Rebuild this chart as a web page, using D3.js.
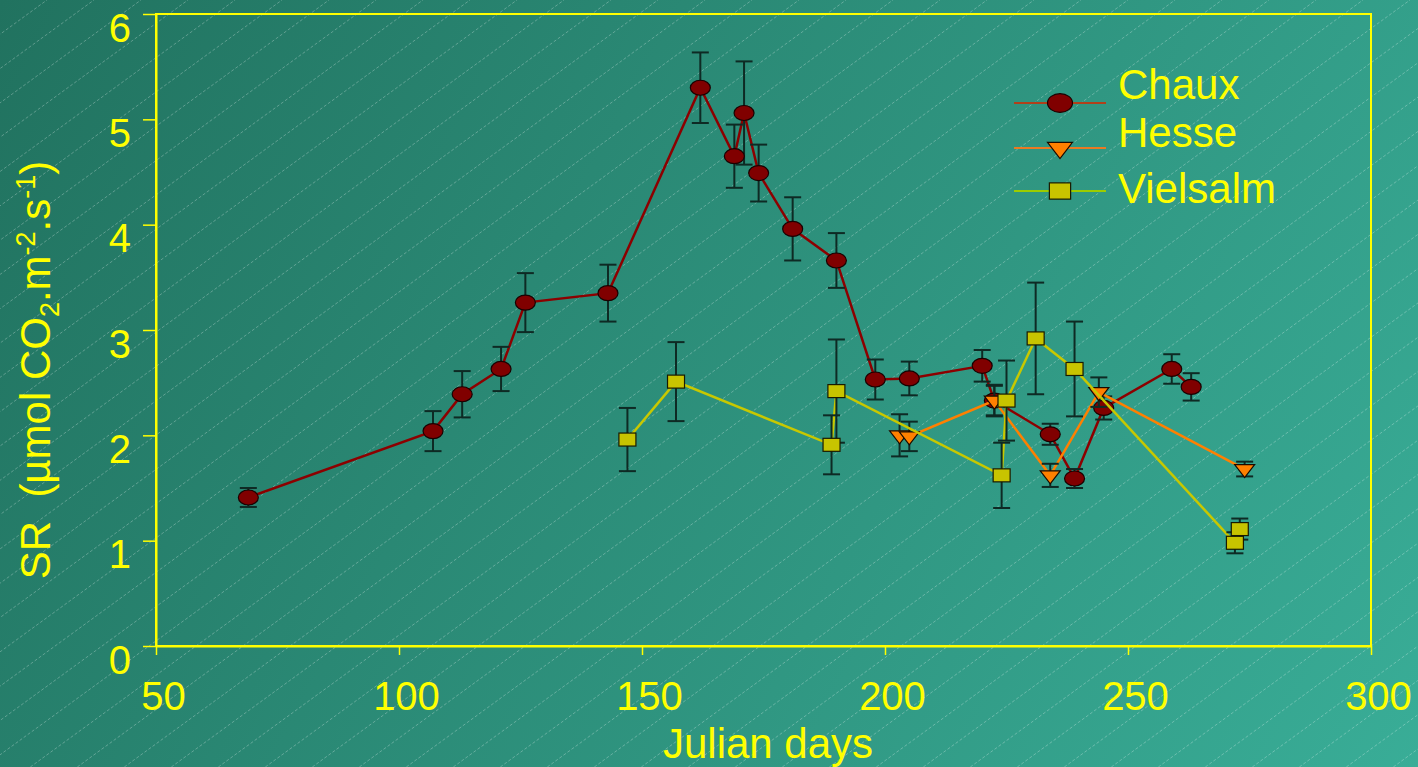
<!DOCTYPE html>
<html>
<head>
<meta charset="utf-8">
<script src="https://cdn.jsdelivr.net/npm/d3@7"></script>
<style>
  html, body { margin: 0; padding: 0; background: #2a8a77; }
  svg { display: block; font-family: "Liberation Sans", Arial, sans-serif; }
</style>
</head>
<body>
<svg id="chart" width="1418" height="767"></svg>
<script>
// Soil respiration (SR) through the season at three forest sites
const chauxDays = [69, 107, 113, 121, 126, 143, 162, 169, 171, 174, 181, 190, 198, 205, 220, 222.5, 234, 239, 245, 259, 263];
const chauxSR   = [1.41, 2.04, 2.39, 2.63, 3.26, 3.35, 5.30, 4.65, 5.06, 4.49, 3.96, 3.66, 2.53, 2.54, 2.66, 2.33, 2.01, 1.59, 2.26, 2.63, 2.46];
const chauxErr  = [0.09, 0.19, 0.22, 0.21, 0.28, 0.27, 0.335, 0.30, 0.49, 0.27, 0.30, 0.26, 0.19, 0.16, 0.15, 0.14, 0.10, 0.09, 0.11, 0.14, 0.13];

const hesseDays = [203, 205, 222.5, 234, 244, 274];
const hesseSR   = [2.00, 1.99, 2.33, 1.62, 2.41, 1.68];
const hesseErr  = [0.20, 0.14, 0.15, 0.11, 0.14, 0.07];

const vielsalmDays = [147, 157, 189, 190, 224, 225, 231, 239, 272, 273];
const vielsalmSR   = [1.96, 2.51, 1.91, 2.42, 1.62, 2.33, 2.92, 2.63, 0.98, 1.11];
const vielsalmErr  = [0.30, 0.375, 0.28, 0.49, 0.31, 0.38, 0.53, 0.45, 0.10, 0.10];

const xTicks = [50, 100, 150, 200, 250, 300];
const yTicks = [0, 1, 2, 3, 4, 5, 6];

const seriesNames = ["Chaux", "Hesse", "Vielsalm"];

const W = 1418, H = 767;
const svg = d3.select("#chart");

// ---- background: diagonal gradient with fine hatching ----
const defs = svg.append("defs");
const grad = defs.append("linearGradient").attr("id", "bg")
  .attr("gradientUnits", "userSpaceOnUse")
  .attr("x1", 0).attr("y1", 0).attr("x2", W).attr("y2", H);
grad.append("stop").attr("offset", 0).attr("stop-color", "#21725f");
grad.append("stop").attr("offset", 1).attr("stop-color", "#39ad97");
svg.append("rect").attr("width", W).attr("height", H).attr("fill", "url(#bg)");

const hatch = svg.append("g").attr("stroke", "#ffffff").attr("stroke-opacity", 0.3)
  .attr("stroke-width", 0.9).attr("stroke-dasharray", "3 2");
const slope = 0.73, step = 47;
for (let x0 = -H / slope - step; x0 < W + step; x0 += step) {
  hatch.append("line").attr("x1", x0).attr("y1", H).attr("x2", x0 + H / slope).attr("y2", 0);
}

// ---- scales ----
const plot = { left: 156, right: 1371, top: 14, bottom: 646 };
const x = d3.scaleLinear().domain([50, 300]).range([plot.left, plot.right]);
const y = d3.scaleLinear().domain([0, 6]).range([plot.bottom, plot.top]);

const yellow = "#ffff00";

// frame
svg.append("rect")
  .attr("x", plot.left).attr("y", plot.top)
  .attr("width", plot.right - plot.left).attr("height", plot.bottom - plot.top)
  .attr("fill", "none").attr("stroke", yellow).attr("stroke-width", 2);

// x axis
const xAxis = d3.axisBottom(x).tickValues(xTicks).tickFormat(d3.format("d"))
  .tickSize(9).tickSizeOuter(0).tickPadding(0);
const gx = svg.append("g").attr("transform", `translate(0,${plot.bottom})`).call(xAxis);
gx.select(".domain").attr("stroke", yellow).attr("stroke-width", 2);
gx.selectAll(".tick line").attr("stroke", yellow).attr("stroke-width", 1.5);
gx.selectAll(".tick text")
  .attr("fill", yellow).attr("font-size", 40).attr("font-family", "Liberation Sans, Arial, sans-serif")
  .attr("dx", 7).attr("y", 64).attr("dy", 0);

// y axis
const yAxis = d3.axisLeft(y).tickValues(yTicks).tickFormat(d3.format("d"))
  .tickSize(13).tickSizeOuter(0).tickPadding(0);
const gy = svg.append("g").attr("transform", `translate(${plot.left},0)`).call(yAxis);
gy.select(".domain").attr("stroke", yellow).attr("stroke-width", 2);
gy.selectAll(".tick line").attr("stroke", yellow).attr("stroke-width", 1.5);
gy.selectAll(".tick text")
  .attr("fill", yellow).attr("font-size", 40).attr("font-family", "Liberation Sans, Arial, sans-serif")
  .attr("x", -25).attr("dy", 0).attr("y", 27);

// axis titles
svg.append("text")
  .attr("x", 768).attr("y", 758)
  .attr("text-anchor", "middle").attr("fill", yellow).attr("font-size", 42)
  .text("Julian days");

const yTitle = svg.append("text")
  .attr("transform", "translate(50,370) rotate(-90)")
  .attr("text-anchor", "middle").attr("fill", yellow).attr("font-size", 42)
  .attr("xml:space", "preserve").style("white-space", "pre");
yTitle.append("tspan").text("SR  (\u00b5mol CO");
yTitle.append("tspan").attr("font-size", 27).attr("dy", 9).text("2");
yTitle.append("tspan").attr("dy", -9).text(".m");
yTitle.append("tspan").attr("font-size", 27).attr("dy", -15).text("-2");
yTitle.append("tspan").attr("dy", 15).text(".s");
yTitle.append("tspan").attr("font-size", 27).attr("dy", -15).text("-1");
yTitle.append("tspan").attr("dy", 15).text(")");

// ---- marker shapes ----
function drawMarker(g, kind, cx, cy, scale) {
  const s = scale || 1;
  if (kind === "circle") {
    g.append("ellipse").attr("cx", cx).attr("cy", cy).attr("rx", 10 * s).attr("ry", 7.5 * s)
      .attr("fill", "#800000").attr("stroke", "#1a0000").attr("stroke-width", 1.2);
  } else if (kind === "triangle") {
    const p = [[-10 * s, -4.5 * s], [10 * s, -4.5 * s], [0, 8.5 * s]]
      .map(d => [cx + d[0], cy + d[1]]);
    g.append("path").attr("d", "M" + p.join("L") + "Z")
      .attr("fill", "#ff8000").attr("stroke", "#1a0a00").attr("stroke-width", 1.2);
  } else {
    g.append("rect").attr("x", cx - 8.5 * s).attr("y", cy - 6.5 * s)
      .attr("width", 17 * s).attr("height", 13 * s)
      .attr("fill", "#c8c400").attr("stroke", "#1a1a00").attr("stroke-width", 1.2);
  }
}

const series = [
  { name: "Chaux", days: chauxDays, sr: chauxSR, err: chauxErr, line: "#8c0000", kind: "circle", legendLine: "#b0401a" },
  { name: "Hesse", days: hesseDays, sr: hesseSR, err: hesseErr, line: "#ff8000", kind: "triangle", legendLine: "#ea7a22" },
  { name: "Vielsalm", days: vielsalmDays, sr: vielsalmSR, err: vielsalmErr, line: "#c8c800", kind: "square", legendLine: "#9ccc00" }
];

const lineGen = d3.line().x(d => x(d.day)).y(d => y(d.sr));

series.forEach(s => {
  const pts = s.days.map((d, i) => ({ day: d, sr: s.sr[i], err: s.err[i] }));
  const g = svg.append("g");
  g.append("path").datum(pts).attr("d", lineGen)
    .attr("fill", "none").attr("stroke", s.line).attr("stroke-width", 2.5);

  const eb = g.append("g").attr("stroke", "#0e2a24").attr("stroke-width", 2);
  pts.forEach(p => {
    const cx = x(p.day), y1 = y(p.sr + p.err), y2 = y(p.sr - p.err);
    eb.append("line").attr("x1", cx).attr("x2", cx).attr("y1", y1).attr("y2", y2);
    eb.append("line").attr("x1", cx - 8.5).attr("x2", cx + 8.5).attr("y1", y1).attr("y2", y1);
    eb.append("line").attr("x1", cx - 8.5).attr("x2", cx + 8.5).attr("y1", y2).attr("y2", y2);
  });

  const mk = g.append("g");
  pts.forEach(p => drawMarker(mk, s.kind, x(p.day), y(p.sr)));
});

// ---- legend ----
const legendRows = [
  { lineY: 103, textY: 99 },
  { lineY: 148, textY: 147 },
  { lineY: 191, textY: 203 }
];
const lg = svg.append("g");
series.forEach((s, i) => {
  const r = legendRows[i];
  lg.append("line").attr("x1", 1014).attr("x2", 1106).attr("y1", r.lineY).attr("y2", r.lineY)
    .attr("stroke", s.legendLine).attr("stroke-width", 2);
  drawMarker(lg, s.kind, 1060, r.lineY, 1.25);
  lg.append("text").attr("x", 1118).attr("y", r.textY)
    .attr("fill", yellow).attr("font-size", 42).text(seriesNames[i]);
});
</script>
</body>
</html>
